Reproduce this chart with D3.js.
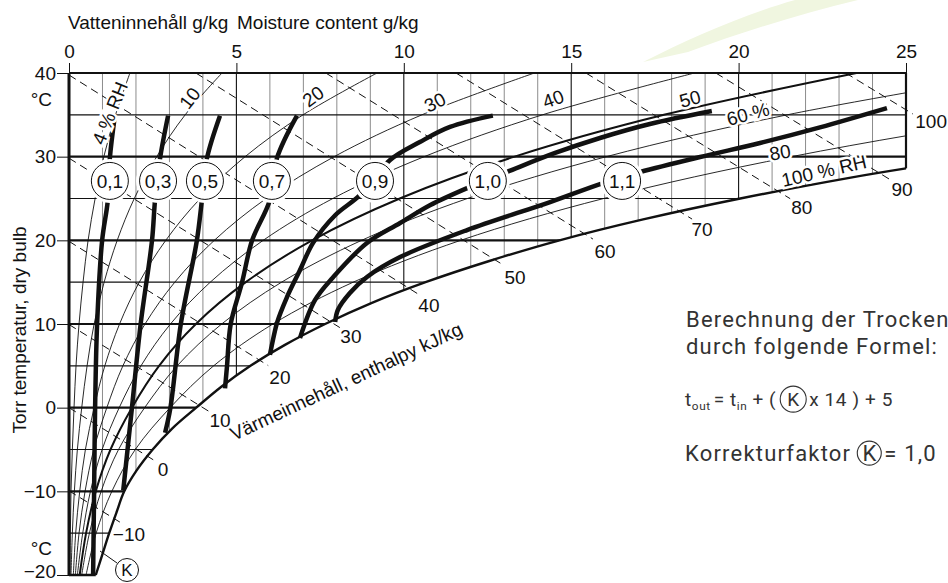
<!DOCTYPE html>
<html>
<head>
<meta charset="utf-8">
<script src="https://cdn.jsdelivr.net/npm/d3@7"></script>
<style>
body {margin:0; background:#fff;}
svg {display:block; font-family:"Liberation Sans", Arial, sans-serif;}
.note {font-family:Roboto, "Open Sans", sans-serif; fill:#333;}
</style>
</head>
<body>
<svg id="chart" width="948" height="583"></svg>
<script>
// axes: moisture content g/kg on top, dry bulb temperature on the left
var moistureTicks = [0, 5, 10, 15, 20, 25];
var tempTicks = [40, 30, 20, 10, 0, -10, -20];

// saturation line (100 % RH), [g/kg, degC]
var satCurve = [
  [0.80, -20], [1.00, -17.5], [1.20, -15], [1.42, -12.5], [1.65, -10],
  [2.02, -7.5], [2.50, -5], [3.08, -2.5], [3.80, 0], [4.55, 2.5],
  [5.42, 5], [6.45, 7.5], [7.65, 10], [9.03, 12.5], [10.65, 15],
  [12.53, 17.5], [14.65, 20], [17.15, 22.5], [20.05, 25], [23.35, 27.5], [25.0, 28.6]
];

// relative humidity lines, moisture (g/kg) at each temperature in rhTemps
var rhTemps = [-20, -15, -10, -5, 0, 5, 10, 15, 20, 25, 30, 35, 40];
var rh4  = [0.03, 0.04, 0.06, 0.10, 0.15, 0.21, 0.30, 0.42, 0.57, 0.78, 1.04, 1.39, 1.82];
var rh10 = [0.06, 0.10, 0.16, 0.25, 0.38, 0.54, 0.75, 1.05, 1.44, 1.95, 2.62, 3.47, 4.57];
var rh20 = [0.13, 0.20, 0.32, 0.49, 0.75, 1.07, 1.51, 2.10, 2.89, 3.92, 5.26, 6.99, 9.20];
var rh30 = [0.19, 0.30, 0.48, 0.74, 1.13, 1.61, 2.27, 3.16, 4.34, 5.89, 7.92, 10.54, 13.90];
var rh40 = [0.25, 0.41, 0.64, 0.99, 1.50, 2.15, 3.03, 4.22, 5.80, 7.88, 10.61, 14.14, 18.68];
var rh50 = [0.32, 0.51, 0.80, 1.24, 1.88, 2.69, 3.79, 5.28, 7.26, 9.88, 13.31, 17.77, 23.52];
var rh60 = [0.38, 0.61, 0.96, 1.48, 2.26, 3.23, 4.56, 6.35, 8.74, 11.90, 16.05, 21.45, 28.44];
var rh80 = [0.51, 0.81, 1.28, 1.98, 3.02, 4.32, 6.09, 8.49, 11.70, 15.97, 21.58, 28.93, 38.5];
var rhNames = ["4 % RH", "10", "20", "30", "40", "50", "60 %", "80", "100 % RH"];
var rhLabelAt = [[1.22, 35.2], [3.61, 37.0], [7.29, 37.2], [10.93, 36.5], [14.46, 36.9],
                 [18.55, 36.9], [20.28, 35.1], [21.24, 30.5], [22.55, 28.3]];

// enthalpy lines kJ/kg, start and end [g/kg, degC]
var enthalpy = [-10, 0, 10, 20, 30, 40, 50, 60, 70, 80, 90, 100];
var enthStart = [[0, -9.94], [0, 0], [0, 9.94], [0, 19.88], [0, 29.82], [0, 39.76],
                 [3.79, 40], [7.67, 40], [11.56, 40], [15.44, 40], [19.32, 40], [23.2, 40]];
var enthEnd = [[1.52, -13.68], [2.63, -6.51], [4.21, -0.52], [5.95, 5.03], [8.09, 9.57], [10.48, 13.45],
               [12.96, 17.08], [15.65, 20.15], [18.61, 22.54], [21.54, 24.98], [24.52, 27.27], [25.21, 35.09]];
var enthLabelAt = [[1.79, -15.16], [2.81, -7.39], [4.51, -1.53], [6.30, 3.6], [8.42, 8.5], [10.75, 12.21],
                   [13.32, 15.62], [16.01, 18.72], [18.91, 21.29], [21.89, 23.92], [24.88, 26.1], [25.75, 34.26]];

// correction factor lines (K)
var k01 = [[1.37, 34.9], [1.22, 29.8], [1.16, 24.8], [0.99, 20], [0.84, 10], [0.78, 0], [0.75, -10], [0.72, -20]];
var k03 = [[2.96, 34.9], [2.72, 29.8], [2.57, 24.8], [2.48, 20], [2.14, 10], [1.88, 0], [1.62, -9.9]];
var k05 = [[4.51, 34.9], [4.12, 29.8], [3.97, 24.8], [3.82, 20], [3.34, 10], [3.03, 0], [2.87, -3.0]];
var k07 = [[6.81, 34.9], [6.21, 29.8], [6.0, 24.8], [5.47, 20], [5.17, 15], [4.83, 10], [4.72, 5], [4.66, 2.3]];
var k09 = [[12.66, 34.9], [11.38, 33.55], [10.48, 31.75], [9.59, 29.6], [8.69, 25.4], [7.95, 23.0],
           [7.29, 19.7], [6.90, 16.45], [6.51, 13.2], [6.21, 10.1], [6.0, 6.3]];
var k10 = [[19.2, 35.45], [17.35, 33.9], [15.86, 32.23], [14.52, 30.44], [13.08, 28.17], [11.98, 26.4],
           [10.78, 24.2], [9.89, 22.07], [8.90, 19.68], [7.89, 15.6], [7.35, 12.87], [6.90, 8.33]];
var k11 = [[24.43, 35.8], [22.43, 33.5], [20.64, 31.63], [18.85, 29.96], [17.06, 28.17], [15.95, 26.85],
           [14.37, 24.58], [11.89, 21.23], [9.89, 18.0], [8.90, 15.62], [8.39, 13.7], [8.03, 11.67], [7.95, 10.24]];
var kNames = ["0,1", "0,3", "0,5", "0,7", "0,9", "1,0", "1,1"];
var kCircleW = [1.22, 2.66, 4.06, 6.06, 9.14, 12.51, 16.52];
var kCircleT = 27.1;

var svg = d3.select("#chart");

var x = d3.scaleLinear().domain([0, 25]).range([69, 906]);
var y = d3.scaleLinear().domain([-20, 40]).range([575, 73]);

var straight = d3.line()
    .x(function (d) {return x(d[0]);})
    .y(function (d) {return y(d[1]);});
var smooth = d3.line()
    .x(function (d) {return x(d[0]);})
    .y(function (d) {return y(d[1]);})
    .curve(d3.curveCatmullRom.alpha(0.5));

// faint leaf in the background
svg.append("path")
    .attr("d", "M643,62 C690,38 745,14 795,0 L858,0 C800,14 742,32 688,52 Z")
    .attr("fill", "#f0f6e0");

// chart area = left/top/right border plus the saturation line
var corners = [[25, 28.6], [25, 40], [0, 40], [0, -20], [0.80, -20]];
var areaD = straight(corners) + smooth(satCurve).replace(/^M/, "L") + "Z";
svg.append("clipPath").attr("id", "area")
  .append("path").attr("d", areaD);

var grid = svg.append("g").attr("clip-path", "url(#area)");

d3.range(1, 25).forEach(function (w) {
  grid.append("line")
      .attr("x1", x(w)).attr("x2", x(w))
      .attr("y1", y(-20)).attr("y2", y(40))
      .attr("stroke", w % 5 == 0 ? "#111" : "#8c8c8c")
      .attr("stroke-width", w % 5 == 0 ? 1.1 : 1);
});
d3.range(-15, 40, 5).forEach(function (t) {
  grid.append("line")
      .attr("x1", x(0)).attr("x2", x(25))
      .attr("y1", y(t)).attr("y2", y(t))
      .attr("stroke", "#111")
      .attr("stroke-width", t % 10 == 0 ? 2.2 : 1.2);
});

var rhCurves = [rh4, rh10, rh20, rh30, rh40, rh50, rh60, rh80];
rhCurves.forEach(function (ws, i) {
  var pts = ws.map(function (w, j) {return [w, rhTemps[j]];});
  grid.append("path")
      .datum(pts)
      .attr("fill", "none")
      .attr("stroke", "#111")
      .attr("stroke-width", ws === rh50 ? 2 : 0.9)
      .attr("d", smooth);
});

// enthalpy, dashed
enthalpy.forEach(function (h, i) {
  svg.append("path")
      .datum([enthStart[i], enthEnd[i]])
      .attr("fill", "none")
      .attr("stroke", "#111")
      .attr("stroke-width", 1)
      .attr("stroke-dasharray", "8,5")
      .attr("d", straight);
});

// borders
svg.append("path").datum([[0, -20], [0, 40]]).attr("stroke", "#111").attr("stroke-width", 3).attr("d", straight);
svg.append("path").datum([[0, 40], [25, 40]]).attr("stroke", "#111").attr("stroke-width", 2.2).attr("d", straight);
svg.append("path").datum([[25, 40], [25, 28.6]]).attr("stroke", "#111").attr("stroke-width", 2.2).attr("d", straight);
svg.append("path").datum([[0, -20], [0.80, -20]]).attr("stroke", "#111").attr("stroke-width", 2.5).attr("d", straight);
svg.append("path").datum(satCurve)
    .attr("fill", "none").attr("stroke", "#111").attr("stroke-width", 2.4).attr("d", smooth);

// K lines
[k01, k03, k05, k07, k09, k10, k11].forEach(function (k) {
  svg.append("path")
      .datum(k)
      .attr("fill", "none")
      .attr("stroke", "#111")
      .attr("stroke-width", 4.5)
      .attr("d", smooth);
});

kNames.forEach(function (n, i) {
  var cx = x(kCircleW[i]), cy = y(kCircleT);
  svg.append("circle").attr("cx", cx).attr("cy", cy).attr("r", 22).attr("fill", "#fff");
  svg.append("circle").attr("cx", cx).attr("cy", cy).attr("r", 18.5)
      .attr("fill", "#fff").attr("stroke", "#111").attr("stroke-width", 1);
  svg.append("text").attr("x", cx).attr("y", cy).attr("dy", "0.35em")
      .attr("text-anchor", "middle").style("font-size", "19px").attr("fill", "#111")
      .text(n);
});

// labels on the RH lines
var rhRot = [-68, -52, -36, -27, -20, -15, -15, -10, -13];
rhNames.forEach(function (n, i) {
  svg.append("text")
      .attr("transform", "translate(" + x(rhLabelAt[i][0]) + "," + y(rhLabelAt[i][1]) + ") rotate(" + rhRot[i] + ")")
      .attr("dy", "0.35em")
      .attr("text-anchor", "middle")
      .style("font-size", "19px")
      .attr("fill", "#111")
      .attr("stroke", "#fff").attr("stroke-width", 5).attr("paint-order", "stroke")
      .text(n);
});

enthalpy.forEach(function (h, i) {
  svg.append("text")
      .attr("x", x(enthLabelAt[i][0])).attr("y", y(enthLabelAt[i][1]))
      .attr("dy", "0.35em")
      .attr("text-anchor", "middle")
      .style("font-size", "19px")
      .attr("fill", "#111")
      .text(d3.format("d")(h));
});

svg.append("text")
    .attr("transform", "translate(234,441) rotate(-25)")
    .style("font-size", "19px").attr("fill", "#111")
    .text("Värmeinnehåll, enthalpy kJ/kg");

// (K) marker at the bottom
svg.append("line").attr("x1", 100).attr("y1", 551).attr("x2", 117).attr("y2", 563)
    .attr("stroke", "#111").attr("stroke-width", 1);
svg.append("circle").attr("cx", 127).attr("cy", 570).attr("r", 11.5)
    .attr("fill", "#fff").attr("stroke", "#111").attr("stroke-width", 1);
svg.append("text").attr("x", 127).attr("y", 570).attr("dy", "0.36em").attr("text-anchor", "middle")
    .style("font-size", "17px").attr("fill", "#111").text("K");

// axes
var topAxis = svg.append("g")
    .attr("transform", "translate(0," + y(40) + ")")
    .call(d3.axisTop(x).tickValues(moistureTicks).tickSize(10).tickPadding(5));
var leftAxis = svg.append("g")
    .attr("transform", "translate(" + x(0) + ",0)")
    .call(d3.axisLeft(y).tickValues(tempTicks).tickSize(12).tickPadding(1));
[topAxis, leftAxis].forEach(function (a) {
  a.select(".domain").remove();
  a.selectAll("text").style("font-size", "19px").style("font-family", "Liberation Sans, Arial, sans-serif").attr("fill", "#111");
  a.selectAll("line").attr("stroke", "#111");
});
leftAxis.selectAll("text").filter(function (d) {return d == -20;}).attr("dy", "0.12em");

svg.append("text").attr("x", 52).attr("y", 106).attr("text-anchor", "end")
    .style("font-size", "19px").attr("fill", "#111").text("°C");
svg.append("text").attr("x", 52).attr("y", 555).attr("text-anchor", "end")
    .style("font-size", "19px").attr("fill", "#111").text("°C");

svg.append("text").attr("x", 68).attr("y", 29)
    .style("font-size", "19px").attr("fill", "#111").text("Vatteninnehåll g/kg");
svg.append("text").attr("x", 237).attr("y", 29)
    .style("font-size", "19px").attr("fill", "#111").text("Moisture content g/kg");

svg.append("text")
    .attr("transform", "translate(26,330) rotate(-90)")
    .attr("text-anchor", "middle")
    .style("font-size", "19px").attr("fill", "#111")
    .text("Torr temperatur, dry bulb");

// formula text on the right
var note = svg.append("g").attr("class", "note");
note.append("text").attr("x", 686).attr("y", 327).style("font-size", "22px").style("letter-spacing", "1.2px")
    .text("Berechnung der Trocken");
note.append("text").attr("x", 686).attr("y", 354).style("font-size", "22px").style("letter-spacing", "1.2px")
    .text("durch folgende Formel:");

function run(parts, x0, y0, size, r, ls) {
  var cx = x0;
  parts.forEach(function (p) {
    if (p.k) {
      note.append("circle").attr("cx", cx + r).attr("cy", y0 - size * 0.36).attr("r", r)
          .attr("fill", "none").attr("stroke", "#333").attr("stroke-width", 1.1);
      note.append("text").attr("x", cx + r).attr("y", y0).attr("text-anchor", "middle")
          .style("font-size", size + "px").text("K");
      cx += 2 * r + 3;
    } else {
      var fs = p.sub ? size * 0.62 : size;
      var t = note.append("text").attr("x", cx).attr("y", y0 + (p.sub ? 4 : 0))
          .style("font-size", fs + "px").style("letter-spacing", ls + "px").text(p.s);
      cx += t.node().getComputedTextLength() + (p.gap || 0);
    }
  });
}
run([{s: "t"}, {s: "out", sub: 1, gap: 3}, {s: "= t"}, {s: "in", sub: 1, gap: 5}, {s: "+ (", gap: 4},
     {k: 1}, {s: "x 14 ) + 5"}], 685, 406, 19, 13, 0.6);
run([{s: "Korrekturfaktor", gap: 6}, {k: 1}, {s: "= 1,0"}], 685, 461, 22, 12, 1.2);
</script>
</body>
</html>
